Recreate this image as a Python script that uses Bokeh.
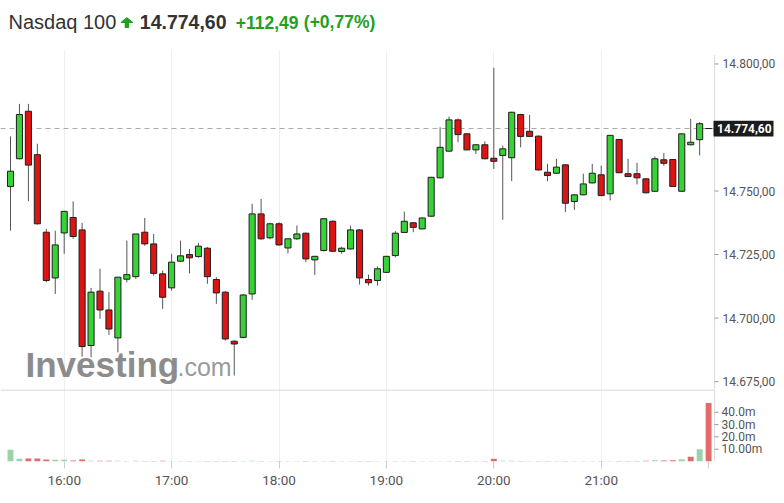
from bokeh.plotting import figure
from bokeh.models import ColumnDataSource, FixedTicker, Range1d
from bokeh.layouts import column
from bokeh.embed import file_html
from bokeh.resources import INLINE
from bokeh.core.properties import value

# ---------------- data (5-minute candles, 15:30 .. 22:00) ----------------
opens = [14751.8, 14762.7, 14781.4, 14764.3, 14733.8, 14715.8, 14733.5, 14739.6, 14734.7, 14689.2,
         14710.6, 14703.2, 14692.2, 14715.3, 14716.3, 14733.8, 14729.2, 14717.4, 14711.9, 14722.4,
         14725.0, 14724.2, 14727.5, 14715.2, 14710.2, 14690.9, 14692.4, 14709.5, 14741.0, 14731.6,
         14737.1, 14727.6, 14731.2, 14733.4, 14722.9, 14726.6, 14738.1, 14726.2, 14727.2, 14734.7,
         14715.2, 14714.8, 14718.0, 14724.6, 14733.7, 14737.5, 14735.1, 14740.1, 14755.2, 14765.7,
         14778.0, 14772.5, 14766.2, 14768.2, 14762.9, 14764.0, 14763.1, 14780.1, 14773.5, 14771.6,
         14757.4, 14757.0, 14760.3, 14745.9, 14748.5, 14753.2, 14756.4, 14748.9, 14770.3, 14756.8,
         14756.8, 14754.8, 14749.9, 14762.3, 14762.4, 14749.9, 14768.2, 14770.2, 14774.6]
highs = [14771.5, 14784.3, 14784.3, 14768.6, 14735.1, 14734.4, 14742.2, 14745.9, 14737.5, 14711.9,
         14719.4, 14710.2, 14716.1, 14730.5, 14733.1, 14739.4, 14733.1, 14718.7, 14725.3, 14730.5,
         14727.2, 14729.6, 14728.0, 14716.1, 14710.6, 14691.2, 14709.5, 14745.0, 14746.9, 14737.5,
         14737.7, 14731.2, 14736.4, 14733.6, 14724.5, 14739.3, 14738.5, 14728.1, 14736.4, 14735.0,
         14717.1, 14720.3, 14724.5, 14734.2, 14741.9, 14737.8, 14739.6, 14755.6, 14775.1, 14779.3,
         14778.5, 14772.8, 14768.4, 14769.5, 14798.5, 14767.9, 14781.2, 14780.4, 14780.0, 14771.8,
         14760.7, 14762.7, 14760.5, 14748.7, 14756.8, 14760.7, 14760.0, 14772.1, 14770.5, 14762.7,
         14761.1, 14755.0, 14763.6, 14765.0, 14762.6, 14772.7, 14778.4, 14777.1, 14774.6]
lows = [14734.4, 14762.5, 14746.0, 14736.8, 14714.1, 14709.5, 14725.3, 14731.2, 14684.8, 14684.6,
        14699.7, 14693.4, 14686.5, 14714.1, 14715.4, 14728.5, 14716.7, 14703.6, 14710.8, 14722.0,
        14717.6, 14723.8, 14713.5, 14705.6, 14691.1, 14677.4, 14692.0, 14707.2, 14730.8, 14731.0,
        14728.5, 14725.5, 14730.8, 14722.0, 14717.0, 14726.2, 14726.0, 14725.3, 14727.0, 14713.2,
        14712.8, 14712.8, 14717.8, 14723.9, 14733.5, 14733.8, 14734.9, 14739.8, 14755.0, 14765.5,
        14769.2, 14766.0, 14764.6, 14762.5, 14758.7, 14738.7, 14753.9, 14767.2, 14771.3, 14758.1,
        14753.9, 14756.8, 14741.7, 14742.6, 14748.3, 14753.0, 14748.0, 14746.3, 14757.0, 14755.5,
        14752.6, 14749.1, 14749.7, 14759.9, 14751.6, 14749.7, 14768.0, 14764.0, 14774.6]
closes = [14757.8, 14780.1, 14760.2, 14737.1, 14714.8, 14728.8, 14742.0, 14732.1, 14688.8, 14710.2,
          14703.2, 14695.7, 14716.1, 14717.1, 14733.1, 14729.2, 14717.6, 14708.2, 14722.0, 14724.5,
          14723.7, 14728.3, 14716.3, 14709.9, 14691.8, 14689.8, 14709.1, 14741.0, 14731.2, 14737.1,
          14728.8, 14731.2, 14733.1, 14723.3, 14724.3, 14739.1, 14726.3, 14727.5, 14734.7, 14715.8,
          14713.9, 14719.4, 14724.3, 14733.4, 14738.1, 14735.7, 14739.4, 14755.4, 14767.2, 14778.0,
          14772.2, 14766.2, 14768.2, 14762.7, 14761.7, 14766.6, 14781.0, 14771.5, 14771.5, 14758.3,
          14756.1, 14759.4, 14745.2, 14748.5, 14752.8, 14757.0, 14748.2, 14771.9, 14757.2, 14755.7,
          14755.2, 14749.3, 14762.7, 14760.9, 14751.8, 14772.5, 14769.2, 14776.5, 14774.6]
volumes_m = [9.5, 2.3, 2.4, 2.4, 1.6, 1.4, 1.5, 0.8, 1.7,
             0.7, 0.6, 0.6, 0.7, 0.5, 0.6, 0.5, 0.5, 0.6, 0.5, 0.5, 0.5,
             0.5, 0.5, 0.5, 0.5, 0.5, 0.5, 0.6, 0.5, 0.5, 0.5, 0.5, 0.5, 0.5, 0.5, 0.5, 0.5, 0.5, 0.5, 0.5, 0.5,
             0.5, 0.5, 0.5, 0.5, 0.5, 0.5, 0.5, 0.5, 0.5, 0.5, 0.5, 0.5, 0.5,
             2.3,
             0.7, 0.6, 0.5, 0.5, 0.5, 0.5, 0.5, 0.5, 0.5, 0.5, 0.5, 0.5, 0.5, 0.5, 0.5, 0.5, 0.6,
             1.0, 0.9, 1.0, 1.8, 3.8, 10.0, 47.5]
prev_close = 14662.11

hour_ticks = [6, 18, 30, 42, 54, 66, 78]
hour_labels = ["16:00", "17:00", "18:00", "19:00", "20:00", "21:00", ""]
price_ticks = [14675, 14700, 14725, 14750, 14800]
price_labels = ["14.675,00", "14.700,00", "14.725,00", "14.750,00", "14.800,00"]
vol_ticks = [10, 20, 30, 40]
vol_labels = ["10.00m", "20.0m", "30.0m", "40.0m"]

title_name = "Nasdaq 100"
title_last = "14.774,60"
title_change = "+112,49"
title_pct = "(+0,77%)"
last_price = closes[-1]

# ---------------- layout helpers (pixels -> x units) ----------------
PX = 8.95          # pixels per candle
X0 = 10.0          # pixel position of first candle
W = 776


def xd(px):
    return (px - X0) / PX


AXIS_X = xd(714)
XR = Range1d(xd(0), xd(W))
LABEL_FONT = "Roboto"
AX_COL = "#dddddd"
TICK_COL = "#999999"
LBL_COL = "#555555"

# ---------------- derived ----------------
n = len(closes)
idx = list(range(n))
UP, DOWN = "#36d236", "#de1414"
body_col = [UP if c > o else DOWN for o, c in zip(opens, closes)]
vol_col = []
for i, c in enumerate(closes):
    ref = prev_close if i == 0 else closes[i - 1]
    vol_col.append("#97d4aa" if c >= ref else "#e36b6b")

src = ColumnDataSource(dict(
    x=idx, o=opens, h=highs, l=lows, c=closes,
    top=[max(o, c) for o, c in zip(opens, closes)],
    bot=[min(o, c) for o, c in zip(opens, closes)],
    col=body_col, vol=volumes_m, vcol=vol_col))

# ---------------- title strip ----------------
TH = 50
t = figure(width=W, height=TH, x_range=Range1d(0, W), y_range=Range1d(0, TH),
           min_border=0, x_axis_location=None, y_axis_location=None,
           outline_line_color=None, toolbar_location=None, output_backend="svg")
t.grid.visible = False
TY = TH - 21.5
t.text(x=[8], y=[TY], text=[title_name], text_font=value("Liberation Sans"),
       text_font_size="20px", text_color="#333333", text_baseline="middle")
t.patch(x=[120.4, 132.3, 126.35], y=[28.0, 28.0, 32.9], fill_color="#22a022", line_color="#22a022")
t.quad(left=[124.2], right=[128.5], bottom=[22.6], top=[28.2], fill_color="#22a022", line_color=None)
t.text(x=[139.3], y=[TY], text=[title_last], text_font=value("Liberation Sans"),
       text_font_size="19.5px", text_font_style="bold", text_color="#333333", text_baseline="middle")
t.text(x=[235.3], y=[TY], text=[title_change], text_font=value("Liberation Sans"),
       text_font_size="17.5px", text_font_style="bold", text_color="#22a022", text_baseline="middle")
t.text(x=[303.3], y=[TY], text=[title_pct], text_font=value("Liberation Sans"),
       text_font_size="17.5px", text_font_style="bold", text_color="#22a022", text_baseline="middle")

# ---------------- price panel ----------------
Y_LO, Y_HI = 14671.9, 14805.3
p = figure(frame_width=W, frame_height=339, x_range=XR, y_range=Range1d(Y_LO, Y_HI),
           x_axis_location=None, y_axis_location=None, min_border=0,
           outline_line_color=None, toolbar_location=None, output_backend="svg")
p.ygrid.grid_line_color = None
p.xgrid.ticker = FixedTicker(ticks=hour_ticks[:-1])
p.xgrid.grid_line_color = "#eeeeee"

# last price dashed line
p.segment(x0=[xd(0)], y0=[last_price], x1=[AXIS_X], y1=[last_price],
          line_color="#aaaaaa", line_dash="5 4", line_width=1)

# watermark
p.text(x=[xd(25)], y=[14681.7], text=["Investing"], text_font=value("Liberation Sans"),
       text_font_size="35px", text_font_style="bold", text_color="#8c8c8c",
       text_baseline="middle")
p.text(x=[xd(177)], y=[14680.9], text=[".com"], text_font=value("Liberation Sans"),
       text_font_size="25px", text_color="#9a9a9a", text_baseline="middle")

# candles
p.segment(x0="x", y0="h", x1="x", y1="l", source=src, line_color="#555555", line_width=1)
p.vbar(x="x", top="top", bottom="bot", width=0.68, source=src,
       fill_color="col", line_color="#1e1e1e", line_width=1)

# right price axis (drawn by hand so the last-price box can sit on it)
p.segment(x0=[AXIS_X], y0=[Y_LO], x1=[AXIS_X], y1=[14803.5], line_color=AX_COL, line_width=1)
p.segment(x0=[AXIS_X] * len(price_ticks), y0=price_ticks,
          x1=[xd(718)] * len(price_ticks), y1=price_ticks, line_color=TICK_COL, line_width=1)
p.text(x=[xd(722)] * len(price_ticks), y=price_ticks, text=price_labels,
       text_font=value(LABEL_FONT), text_font_size="12px", text_color=LBL_COL,
       text_baseline="middle", text_align="left")
p.segment(x0=[AXIS_X], y0=[last_price], x1=[xd(718)], y1=[last_price], line_color="#333333")
p.quad(left=[xd(713)], right=[xd(773)], bottom=[last_price - 3.1], top=[last_price + 3.1],
       fill_color="#1c1c1c", line_color=None)
p.text(x=[xd(716.5)], y=[last_price], text=[title_last], text_font=value(LABEL_FONT),
       text_font_size="12px", text_font_style="bold", text_color="white",
       text_baseline="middle", text_align="left")

# ---------------- volume panel ----------------
V_HI = 58.5
v = figure(frame_width=W, frame_height=72, x_range=XR, y_range=Range1d(0, V_HI),
           y_axis_location=None, min_border_left=0, min_border_top=0,
           min_border_right=0, min_border_bottom=28, outline_line_color=None,
           toolbar_location=None, output_backend="svg")
v.ygrid.grid_line_color = None
v.xgrid.ticker = FixedTicker(ticks=hour_ticks[:-1])
v.xgrid.grid_line_color = "#f0f0f0"
v.segment(x0=[xd(0)], y0=[V_HI - 0.4], x1=[AXIS_X], y1=[V_HI - 0.4], line_color="#cccccc", line_width=1)
v.vbar(x="x", top="vol", width=0.66, source=src, fill_color="vcol", line_color=None)

v.segment(x0=[AXIS_X], y0=[0], x1=[AXIS_X], y1=[V_HI], line_color=AX_COL, line_width=1)
v.segment(x0=[AXIS_X] * len(vol_ticks), y0=vol_ticks,
          x1=[xd(718)] * len(vol_ticks), y1=vol_ticks, line_color=TICK_COL, line_width=1)
v.text(x=[xd(721)] * len(vol_ticks), y=vol_ticks, text=vol_labels,
       text_font=value(LABEL_FONT), text_font_size="12px", text_color=LBL_COL,
       text_baseline="middle", text_align="left")

xa = v.xaxis[0]
xa.ticker = FixedTicker(ticks=hour_ticks)
xa.major_label_overrides = dict(zip(hour_ticks, hour_labels))
xa.axis_line_color = None
xa.major_tick_line_color = "#cccccc"
xa.major_tick_out = 7
xa.major_tick_in = 0
xa.minor_tick_line_color = None
xa.major_label_standoff = 3
xa.major_label_text_font = LABEL_FONT
xa.major_label_text_font_size = "13.5px"
xa.major_label_text_color = LBL_COL

layout = column(t, p, v, spacing=0)
open("out.html", "w").write(file_html(layout, INLINE))
